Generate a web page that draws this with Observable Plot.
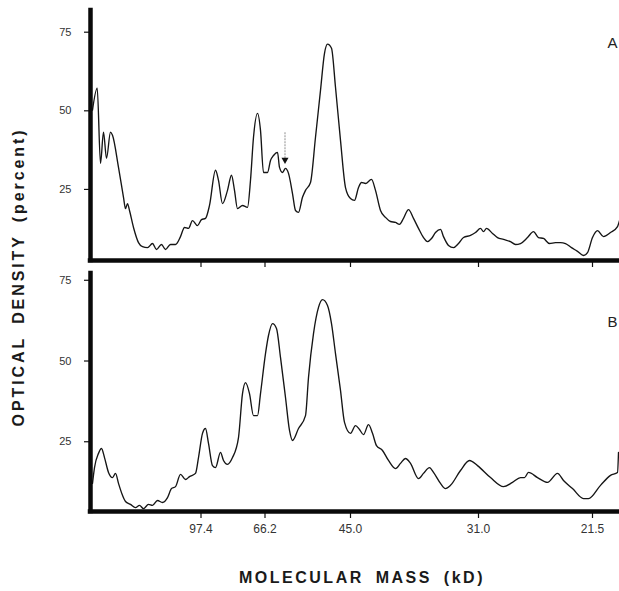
<!DOCTYPE html>
<html>
<head>
<meta charset="utf-8">
<script src="https://cdn.jsdelivr.net/npm/d3@7"></script>
<script src="https://cdn.jsdelivr.net/npm/@observablehq/plot@0.6"></script>
<style>
  html, body { margin: 0; padding: 0; background: #fff; }
  #fig { position: relative; width: 619px; height: 591px; overflow: hidden; background: #fff; }
  #fig svg { position: absolute; left: 0; overflow: hidden; }
  .lab { position: absolute; font-family: "Liberation Sans", Arial, sans-serif; font-weight: bold; color: #1a1a1a; white-space: nowrap; font-size: 16px; letter-spacing: 2.5px; word-spacing: 5px; }
</style>
</head>
<body>
<div id="fig"></div>
<script>
// Migration position (arbitrary units along the gel) and optical density (percent)
const posA = [0.4,1.34,2.0,2.6,3.2,4.0,4.4,5.6,6.6,7.0,7.4,7.8,8.6,9.6,10.4,11.4,12.4,13.2,14.2,15.0,16.0,17.0,18.0,18.8,19.6,20.4,21.4,22.2,23.0,23.8,25.0,25.6,26.4,27.4,28.2,28.8,29.4,30.4,31.4,32.0,32.6,33.4,34.0,34.6,35.4,36.0,36.6,37.4,37.8,38.4,39.0,39.6,40.4,41.0,41.6,42.4,43.0,44.0,45.0,46.0,46.8,47.4,48.2,49.0,50.0,51.0,52.0,52.8,53.6,54.2,55.0,56.2,57.0,58.0,59.0,60.0,61.0,61.8,62.6,63.6,64.6,65.6,66.6,67.4,68.2,69.0,70.0,70.6,71.6,72.6,73.6,74.6,76.0,77.0,78.0,78.6,79.2,80.4,81.4,82.6,84.0,85.0,86.0,87.4,88.6,89.6,90.6,91.8,93.0,94.0,95.0,96.2,97.4,98.6,99.4,100.4,101.4,102.6,104.0,105.4,105.8];
const odA  = [50.2,57.2,33.3,43.2,34.9,43.2,42.2,32.0,22.5,18.9,20.5,18.3,12.9,8.1,6.8,6.5,7.8,5.9,7.5,5.9,7.5,7.5,10.0,12.9,12.6,15.1,13.5,15.4,15.8,19.9,31.1,27.9,20.5,24.7,29.5,24.7,18.9,19.9,19.3,27.9,41.6,49.2,43.8,30.4,30.4,34.2,35.8,36.8,32.0,30.4,31.7,30.1,23.7,18.3,17.7,22.5,24.7,27.2,41.6,56.5,68.3,71.2,69.9,57.5,40.6,25.6,22.1,21.5,25.6,27.2,26.9,28.2,24.7,18.3,16.1,14.8,14.5,13.9,15.8,18.6,15.8,12.6,9.7,8.4,9.4,11.3,12.3,10.0,7.2,6.5,7.8,9.7,10.4,11.3,12.6,11.6,12.6,11.0,9.7,9.1,8.4,7.5,7.8,9.7,11.6,9.7,9.4,7.8,8.1,8.1,7.8,6.5,5.3,4.0,4.9,9.7,11.9,10.0,11.3,13.2,15.1];

const posB = [0.4,0.8,1.6,2.2,2.8,3.6,4.4,5.0,5.6,6.4,7.0,8.0,9.0,9.8,10.6,11.6,12.4,13.4,14.4,15.4,16.2,17.0,18.0,19.0,19.8,21.0,21.6,22.4,23.0,23.6,24.4,25.0,26.0,26.6,27.4,28.4,29.6,30.4,31.0,31.8,32.6,33.4,34.0,35.0,35.6,36.4,37.2,38.0,39.0,39.8,40.4,41.6,43.0,43.6,44.6,45.6,46.4,47.4,48.2,49.0,50.0,50.8,52.0,53.0,53.8,54.6,55.6,56.4,57.2,58.4,59.6,61.0,62.0,63.0,64.0,65.6,66.6,67.8,68.6,70.0,71.0,72.0,74.0,75.8,77.4,80.0,82.6,84.4,86.0,86.8,87.6,89.4,91.4,93.4,94.6,96.4,98.6,99.6,102.0,104.0,105.4,105.6];
const odB  = [12.1,17.0,21.4,22.9,20.1,15.5,13.9,15.2,12.1,8.4,6.5,5.6,4.6,5.3,4.3,5.6,5.3,6.8,6.2,7.7,10.5,11.1,14.9,13.3,14.2,15.2,20.1,27.6,29.1,24.5,17.6,17.0,21.7,19.2,18.0,20.1,26.3,39.9,43.3,39.9,33.1,33.1,39.9,52.3,57.9,61.6,60.1,51.1,38.7,28.5,25.4,29.1,33.1,44.9,58.5,66.6,69.0,67.2,61.6,52.3,40.9,31.0,27.6,30.0,28.8,27.2,30.3,27.6,23.8,22.3,19.2,16.7,18.3,19.8,18.3,13.6,15.2,17.0,15.5,12.1,10.5,11.5,16.1,19.2,17.6,13.9,11.1,12.4,13.9,13.9,15.5,13.9,12.4,15.2,13.0,10.5,7.4,7.4,11.5,14.6,15.5,21.7];

// Molecular mass markers (kD) and their migration positions
const massLabels = ["97.4", "66.2", "45.0", "31.0", "21.5"];
const massPos    = [22.1, 34.9, 52.0, 77.6, 100.4];
const odTicks    = [25, 50, 75];
// Arrow annotation on trace A
const arrowPos = [38.9];
const arrowTop = [43.2];
const arrowTip = [34.4];

const W = 619;
const xDomain = [0, 105.8];
const tracesA = posA.map((p, i) => ({pos: p, od: odA[i]}));
const tracesB = posB.map((p, i) => ({pos: p, od: odB[i]}));
const arrows = arrowPos.map((p, i) => ({pos: p, y1: arrowTop[i], y2: arrowTip[i]}));
const FONT = "Liberation Sans, Arial, sans-serif";

function panel({data, height, marginTop, marginBottom, yDomain, label, labelDx, labelDy, showLabels, extra = []}) {
  return Plot.plot({
    width: W, height, marginLeft: 90, marginRight: 0, marginTop, marginBottom,
    style: {fontFamily: FONT, background: "transparent", overflow: "hidden"},
    x: {domain: xDomain, axis: null},
    y: {domain: yDomain, axis: null},
    marks: [
      Plot.axisY(odTicks, {anchor: "left", tickSize: 6, tickPadding: 13, fontSize: 11, label: null, stroke: "#111", strokeWidth: 1.2, fill: "#333"}),
      Plot.axisX(massPos, {anchor: "bottom", tickSize: 7, tickPadding: 6, fontSize: 12, label: null, stroke: "#111", strokeWidth: 1.2, fill: "#333",
        tickFormat: d => showLabels ? massLabels[massPos.indexOf(d)] : ""}),
      Plot.line(data, {x: "pos", y: "od", curve: "monotone-x", stroke: "#151515", strokeWidth: 1.35}),
      ...extra,
      Plot.ruleX([0], {stroke: "#0a0a0a", strokeWidth: 4.5, strokeLinecap: "square"}),
      Plot.ruleY([yDomain[0]], {stroke: "#0a0a0a", strokeWidth: 4.5, strokeLinecap: "square"}),
      Plot.text([label], {frameAnchor: "top-right", textAnchor: "start", lineAnchor: "middle", dx: labelDx, dy: labelDy, fontSize: 15, fill: "#222"})
    ]
  });
}

const fig = document.getElementById("fig");

const plotA = panel({
  data: tracesA, height: 268, marginTop: 10, marginBottom: 8, yDomain: [2.4, 81.9],
  label: "A", labelDx: -12, labelDy: 33, showLabels: false,
  extra: [
    Plot.link(arrows, {x1: "pos", x2: "pos", y1: "y1", y2: "y2", stroke: "#999", strokeWidth: 1.1, strokeDasharray: "2,1"}),
    Plot.dot(arrows, {x: "pos", y: "y2", symbol: "triangle", rotate: 180, r: 2.6, fill: "#111", stroke: "none"})
  ]
});
plotA.style.top = "0px";
fig.appendChild(plotA);

const plotB = panel({
  data: tracesB, height: 323, marginTop: 5, marginBottom: 80, yDomain: [3.4, 77.1],
  label: "B", labelDx: -12, labelDy: 49, showLabels: true
});
plotB.style.top = "268px";
fig.appendChild(plotB);

const ylab = document.createElement("div");
ylab.className = "lab";
ylab.textContent = "OPTICAL DENSITY (percent)";
ylab.style.left = "19px";
ylab.style.top = "277px";
ylab.style.letterSpacing = "2.9px";
ylab.style.transform = "translate(-50%, -50%) rotate(-90deg)";
fig.appendChild(ylab);

const xlab = document.createElement("div");
xlab.className = "lab";
xlab.textContent = "MOLECULAR MASS (kD)";
xlab.style.left = "362px";
xlab.style.top = "578px";
xlab.style.transform = "translate(-50%, -50%)";
fig.appendChild(xlab);
</script>
</body>
</html>
